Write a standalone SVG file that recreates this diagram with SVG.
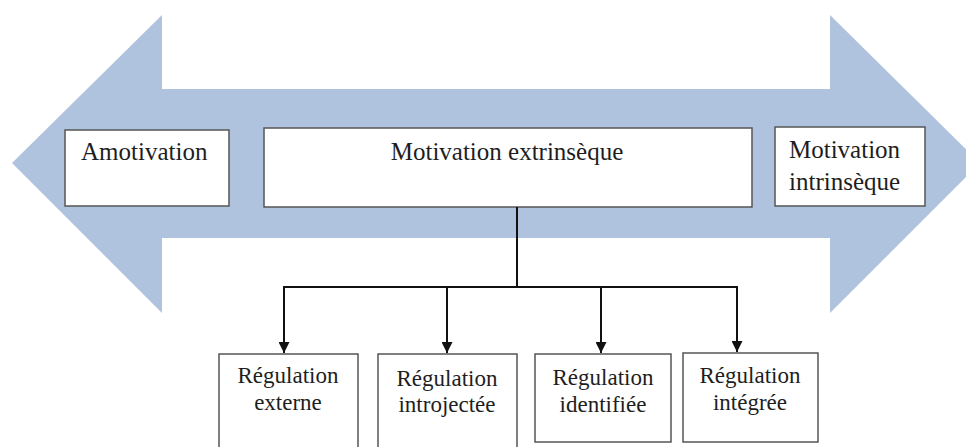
<svg xmlns="http://www.w3.org/2000/svg" width="966" height="447" viewBox="0 0 966 447">
  <style>
    .box { fill: #ffffff; stroke: #555555; stroke-width: 1.5; }
    .lbl { font-family: "Liberation Serif", "Times New Roman", serif; fill: #1e1e1e; }
    .big { font-size: 25px; }
    .small { font-size: 23px; }
    .conn { stroke: #111111; stroke-width: 2; fill: none; }
  </style>
  <defs>
    <marker id="arr" viewBox="0 0 10 10" refX="10" refY="5" markerWidth="5.5" markerHeight="5.5" orient="auto" markerUnits="strokeWidth">
      <path d="M0,0 L10,5 L0,10 Z" fill="#111111"/>
    </marker>
  </defs>
  <rect width="966" height="447" fill="#ffffff"/>
  <polygon id="double-arrow" points="12,163 162,15 162,89 830,89 830,15 980,163 830,313 830,238 162,238 162,313" fill="#B0C3DE"/>

  <g id="amotivation">
    <rect class="box" x="65" y="130" width="164" height="76"/>
    <text class="lbl big" x="81" y="160">Amotivation</text>
  </g>
  <g id="motivation-extrinseque">
    <rect class="box" x="264" y="128" width="488" height="79"/>
    <text class="lbl big" x="507" y="160" text-anchor="middle">Motivation extrinsèque</text>
  </g>
  <g id="motivation-intrinseque">
    <rect class="box" x="775" y="127" width="150" height="79"/>
    <text class="lbl big" x="789" y="158">Motivation</text>
    <text class="lbl big" x="789" y="190">intrinsèque</text>
  </g>

  <g id="connectors">
    <line class="conn" x1="517" y1="207" x2="517" y2="287"/>
    <line class="conn" x1="283" y1="287" x2="738" y2="287"/>
    <line class="conn" x1="284" y1="287" x2="284" y2="353" marker-end="url(#arr)"/>
    <line class="conn" x1="447" y1="287" x2="447" y2="353" marker-end="url(#arr)"/>
    <line class="conn" x1="601" y1="287" x2="601" y2="353" marker-end="url(#arr)"/>
    <line class="conn" x1="737" y1="287" x2="737" y2="352" marker-end="url(#arr)"/>
  </g>

  <g id="regulation-externe">
    <rect class="box" x="219" y="354" width="139" height="100"/>
    <text class="lbl small" x="288" y="383" text-anchor="middle">Régulation</text>
    <text class="lbl small" x="288" y="410" text-anchor="middle">externe</text>
  </g>
  <g id="regulation-introjectee">
    <rect class="box" x="378" y="354" width="139" height="100"/>
    <text class="lbl small" x="447" y="386" text-anchor="middle">Régulation</text>
    <text class="lbl small" x="447" y="412" text-anchor="middle">introjectée</text>
  </g>
  <g id="regulation-identifiee">
    <rect class="box" x="535" y="354" width="136" height="88"/>
    <text class="lbl small" x="603" y="385" text-anchor="middle">Régulation</text>
    <text class="lbl small" x="603" y="412" text-anchor="middle">identifiée</text>
  </g>
  <g id="regulation-integree">
    <rect class="box" x="683" y="353" width="135" height="89"/>
    <text class="lbl small" x="750" y="383" text-anchor="middle">Régulation</text>
    <text class="lbl small" x="750" y="410" text-anchor="middle">intégrée</text>
  </g>
</svg>
